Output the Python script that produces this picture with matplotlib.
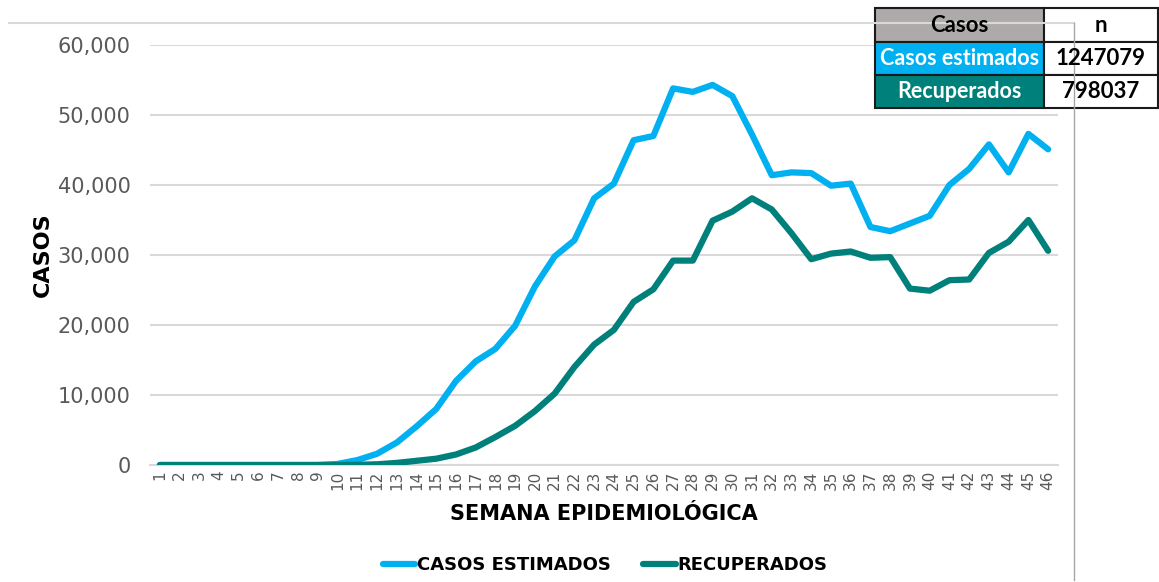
import numpy as np
import matplotlib.pyplot as plt
from matplotlib.patches import Rectangle
from matplotlib.lines import Line2D
from matplotlib.ticker import FuncFormatter

W, H = 1159, 582

semanas = list(range(1, 47))

casos_estimados = [0, 0, 0, 0, 0, 0, 0, 0, 0, 150,
                   700, 1600, 3200, 5500, 8000, 12000, 14800, 16600, 19900, 25500,
                   29800, 32100, 38100, 40200, 46400, 47000, 53800, 53300, 54300, 52700,
                   47200, 41400, 41800, 41700, 39900, 40200, 34000, 33400, 34500, 35600,
                   40000, 42300, 45800, 41800, 47300, 45100]

recuperados = [0, 0, 0, 0, 0, 0, 0, 0, 0, 0,
               30, 100, 300, 600, 900, 1500, 2500, 4000, 5600, 7700,
               10200, 14000, 17200, 19300, 23300, 25100, 29200, 29200, 34900, 36200,
               38100, 36500, 33100, 29400, 30200, 30500, 29600, 29700, 25200, 24900,
               26400, 26500, 30300, 31900, 35000, 30600]

tabla_header = ["Casos", "n"]
tabla_filas = ["Casos estimados", "Recuperados"]
tabla_n = [1247079, 798037]

AZUL = "#00b0f0"
VERDE = "#00807a"
GRIS_HEADER = "#aeaaaa"

fig = plt.figure(figsize=(W / 100, H / 100), dpi=100)


def fx(px):
    return px / W


def fy(py):
    return 1 - py / H


ax = fig.add_axes([fx(150), fy(465), fx(1058) - fx(150), fy(45) - fy(465)])
ax.plot(semanas, casos_estimados, color=AZUL, lw=4.5, solid_capstyle="round",
        solid_joinstyle="round", label="CASOS ESTIMADOS", zorder=3)
ax.plot(semanas, recuperados, color=VERDE, lw=4.5, solid_capstyle="round",
        solid_joinstyle="round", label="RECUPERADOS", zorder=3)

ax.set_xlim(0.5, 46.5)
ax.set_ylim(0, 60000)
ax.set_yticks(range(0, 60001, 10000))
ax.yaxis.set_major_formatter(FuncFormatter(lambda v, p: f"{int(v):,}"))
ax.set_xticks(semanas)
ax.set_xticklabels([str(s) for s in semanas], rotation=90, fontsize=11, color="#595959")
ax.tick_params(axis="y", labelsize=15, colors="#595959", length=0, pad=14)
ax.tick_params(axis="x", length=0, pad=4)
ax.grid(axis="y", color="#d9d9d9", lw=1.5)
ax.set_axisbelow(True)
for s in ["top", "right", "left"]:
    ax.spines[s].set_visible(False)
ax.spines["bottom"].set_color("#d9d9d9")
ax.spines["bottom"].set_linewidth(1.5)

ax.set_xlabel("SEMANA EPIDEMIOLÓGICA", fontsize=15, fontweight="bold", labelpad=10)
ax.set_ylabel("CASOS", fontsize=16, fontweight="bold")
ax.yaxis.set_label_coords(-0.107, 0.5)

fig.legend(loc="center", bbox_to_anchor=(fx(605), fy(565)), ncol=2, frameon=False,
           prop={"weight": "bold", "size": 13}, handlelength=1.8,
           handletextpad=0.1, columnspacing=1.8)

# bordes del grafico original
fig.add_artist(Line2D([fx(9), fx(1074)], [fy(23), fy(23)], color="#d9d9d9", lw=1.5))
fig.add_artist(Line2D([fx(1074), fx(1074)], [fy(23), fy(580)], color="#a6a6a6", lw=1))

# tabla
x0, x1, x2 = 875, 1044, 1158
ys = [8, 42, 75, 108]
fondos = [(GRIS_HEADER, "white"), (AZUL, "white"), (VERDE, "white")]
textos = [tabla_header, [tabla_filas[0], str(tabla_n[0])], [tabla_filas[1], str(tabla_n[1])]]
colores_txt = [("black", "black"), ("white", "black"), ("white", "black")]
for i in range(3):
    for j, (xa, xb) in enumerate([(x0, x1), (x1, x2)]):
        fig.add_artist(Rectangle((fx(xa), fy(ys[i + 1])), fx(xb) - fx(xa),
                                 fy(ys[i]) - fy(ys[i + 1]), facecolor=fondos[i][j],
                                 edgecolor="#1a1a1a", lw=1.5))
        fig.text(fx((xa + xb) / 2), fy((ys[i] + ys[i + 1]) / 2), textos[i][j],
                 ha="center", va="center", fontsize=16 if j == 1 or i == 0 else 15.5,
                 fontweight="bold", family="Lato", color=colores_txt[i][j])

fig.savefig("out.png", dpi=100)
